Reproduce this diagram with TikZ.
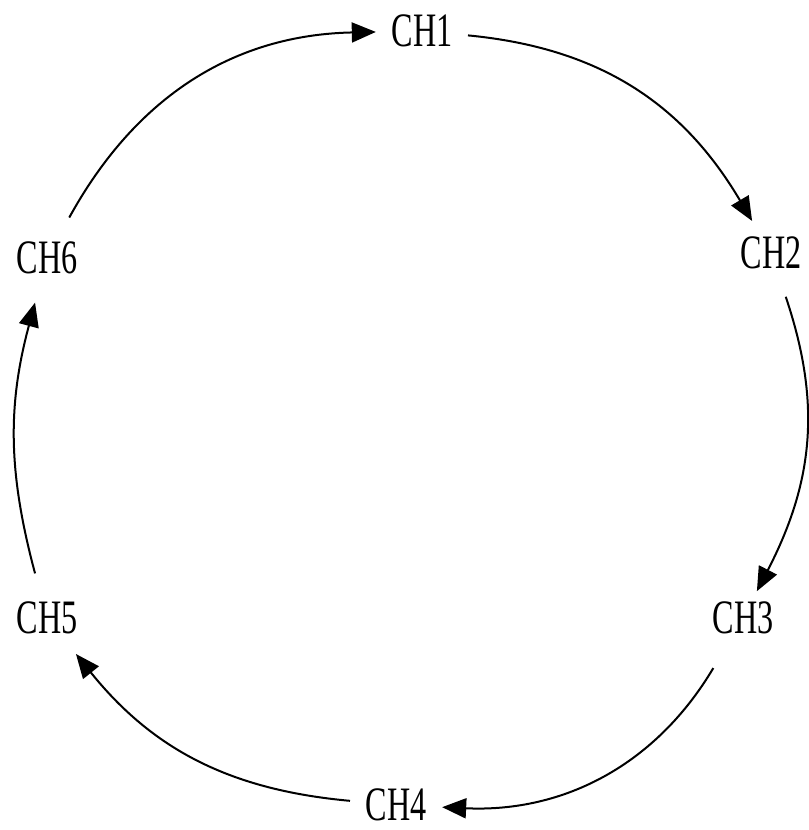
\documentclass[tikz,border=0pt]{standalone}
\usepackage{fontspec}
\setmainfont{Liberation Serif}[FakeStretch=0.67]
\usetikzlibrary{arrows.meta}

\begin{document}
\begin{tikzpicture}[x=1bp,y=1bp,
  ch/.style={circle,minimum size=92bp,inner sep=0pt,font=\fontsize{48bp}{50bp}\selectfont},
  arr/.style={-{Triangle[length=24bp,width=20bp]},line width=2bp}
]
\useasboundingbox (0,0) rectangle (809,-830);

\node[ch] (ch1) at (422,-31) {CH1};
\node[ch] (ch2) at (771,-253) {CH2};
\node[ch] (ch3) at (743,-618) {CH3};
\node[ch] (ch4) at (396,-805) {CH4};
\node[ch] (ch5) at (47,-618) {CH5};
\node[ch] (ch6) at (47,-258) {CH6};

\draw[arr,shorten >=-9bp] (ch1) to[bend left=27] (ch2);
\draw[arr,shorten >=-16bp] (ch2) to[bend left=23] (ch3);
\draw[arr,shorten <=12bp] (ch3) to[bend left=31] (ch4);
\draw[arr] (ch4) to[bend left=23] (ch5);
\draw[arr] (ch5) to[bend left=15] (ch6);
\draw[arr] (ch6) to[bend left=30] (ch1);
\end{tikzpicture}
\end{document}
